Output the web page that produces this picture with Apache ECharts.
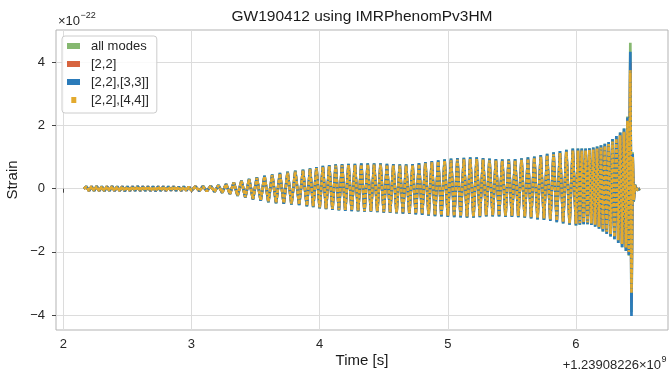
<!DOCTYPE html>
<html>
<head>
<meta charset="utf-8">
<script src="https://cdn.jsdelivr.net/npm/echarts@6/dist/echarts.min.js"></script>
<style>html,body{margin:0;padding:0;background:#fff}#c{width:671px;height:372px}</style>
</head>
<body>
<div id="c"></div>
<script>
// Time in seconds relative to 1.23908226e9 (extrema of the waveform)
const time = [
2.16,2.18,2.20,2.22,2.24,2.26,2.28,2.30,2.32,2.34,
2.36,2.38,2.40,2.42,2.44,2.46,2.48,2.50,2.52,2.54,
2.56,2.58,2.60,2.62,2.64,2.66,2.68,2.70,2.72,2.74,
2.76,2.78,2.80,2.82,2.84,2.86,2.88,2.90,2.92,2.94,
2.96,2.98,
3.00,3.03,3.06,3.09,3.12,3.15,3.18,3.21,3.24,3.27,
3.30,3.33,3.36,3.39,3.42,3.45,3.48,3.51,3.54,3.57,
3.60,3.63,3.66,3.69,3.72,3.75,3.78,3.81,3.84,3.87,
3.90,
3.925,3.95,3.975,4.00,4.025,4.05,4.075,4.10,4.125,4.15,
4.175,4.20,4.225,4.25,4.275,4.30,4.325,4.35,4.375,4.40,
4.425,4.45,4.475,4.50,4.525,4.55,4.575,4.60,4.625,4.65,
4.675,4.70,4.725,4.75,4.775,4.80,4.825,4.85,4.875,4.90,
4.925,4.95,4.975,5.00,
5.025,5.05,5.075,5.10,5.125,5.15,5.175,5.20,5.225,5.25,
5.275,5.30,5.325,5.35,5.375,5.40,5.425,5.45,5.475,5.50,
5.525,5.55,5.575,5.60,5.625,5.65,5.675,5.70,5.725,5.75,
5.775,5.80,5.825,5.85,5.875,5.90,5.925,5.95,5.975,6.00,
6.015,6.03,6.045,6.06,6.075,6.09,6.105,6.12,6.135,6.15,
6.165,6.18,6.195,6.21,6.225,6.24,6.255,6.27,6.285,6.30,
6.315,6.33,6.345,6.36,6.375,6.39,
6.402,6.413,6.424,6.433,6.442,6.45,6.46,6.475,6.50
];

// Strain values (units of 1e-22)
const allModes = [
0,0.07,-0.07,0.07,-0.07,0.08,-0.07,0.07,-0.08,0.07,
-0.07,0.08,-0.07,0.07,-0.07,0.07,-0.08,0.07,-0.07,0.07,
-0.07,0.08,-0.07,0.07,-0.07,0.07,-0.07,0.07,-0.08,0.07,
-0.07,0.07,-0.07,0.07,-0.06,0.07,-0.07,0.06,-0.07,0.07,
-0.06,0.06,
-0.06,0.07,-0.07,0.08,-0.08,0.09,-0.10,0.11,-0.13,0.15,
-0.17,0.20,-0.23,0.26,-0.28,0.31,-0.34,0.36,-0.38,0.41,
-0.43,0.45,-0.46,0.50,-0.48,0.54,-0.50,0.57,-0.52,0.60,
-0.56,
0.64,-0.58,0.68,-0.62,0.72,-0.65,0.75,-0.67,0.77,-0.69,
0.78,-0.70,0.79,-0.71,0.79,-0.72,0.80,-0.73,0.80,-0.73,
0.80,-0.74,0.80,-0.76,0.79,-0.77,0.78,-0.78,0.77,-0.79,
0.77,-0.80,0.78,-0.81,0.81,-0.83,0.84,-0.85,0.87,-0.87,
0.90,-0.88,0.93,-0.89,
0.95,-0.90,0.97,-0.91,0.98,-0.92,0.99,-0.92,0.99,-0.90,
0.97,-0.88,0.95,-0.88,0.94,-0.88,0.93,-0.89,0.93,-0.89,
0.94,-0.90,0.96,-0.92,0.99,-0.94,1.02,-0.97,1.06,-0.99,
1.10,-1.02,1.15,-1.06,1.19,-1.10,1.23,-1.14,1.27,-1.16,
1.27,-1.14,1.27,-1.12,1.27,-1.12,1.28,-1.15,1.30,-1.20,
1.33,-1.27,1.37,-1.35,1.42,-1.43,1.48,-1.51,1.57,-1.60,
1.67,-1.72,1.78,-1.85,1.90,-1.97,
2.28,-2.12,4.62,-3.90,1.15,-0.42,0.13,-0.05,0
];

const mode22 = [
0,0.06,-0.07,0.07,-0.06,0.07,-0.07,0.06,-0.07,0.07,
-0.06,0.07,-0.07,0.06,-0.07,0.07,-0.07,0.06,-0.07,0.07,
-0.06,0.07,-0.07,0.07,-0.06,0.07,-0.07,0.06,-0.07,0.07,
-0.06,0.07,-0.07,0.06,-0.06,0.07,-0.06,0.06,-0.07,0.06,
-0.06,0.06,
-0.06,0.07,-0.07,0.07,-0.08,0.08,-0.09,0.10,-0.12,0.14,
-0.16,0.19,-0.21,0.24,-0.27,0.29,-0.33,0.34,-0.37,0.39,
-0.41,0.43,-0.44,0.47,-0.46,0.51,-0.48,0.54,-0.50,0.57,
-0.54,
0.61,-0.56,0.65,-0.60,0.68,-0.63,0.71,-0.65,0.73,-0.67,
0.74,-0.68,0.75,-0.69,0.75,-0.70,0.76,-0.71,0.76,-0.71,
0.76,-0.72,0.76,-0.74,0.75,-0.75,0.74,-0.76,0.73,-0.77,
0.73,-0.78,0.74,-0.79,0.77,-0.80,0.80,-0.82,0.83,-0.84,
0.86,-0.85,0.88,-0.86,
0.90,-0.87,0.92,-0.88,0.93,-0.89,0.94,-0.89,0.94,-0.87,
0.92,-0.85,0.90,-0.85,0.89,-0.85,0.88,-0.86,0.88,-0.86,
0.89,-0.87,0.91,-0.89,0.94,-0.91,0.97,-0.93,1.01,-0.95,
1.05,-0.98,1.09,-1.02,1.13,-1.06,1.17,-1.10,1.21,-1.12,
1.21,-1.10,1.21,-1.08,1.21,-1.08,1.22,-1.11,1.24,-1.15,
1.27,-1.22,1.30,-1.29,1.35,-1.37,1.41,-1.44,1.49,-1.53,
1.58,-1.64,1.69,-1.76,1.80,-1.88,
2.20,-2.05,4.00,-3.60,1.05,-0.38,0.11,-0.03,0
];

const mode22_33 = [
0,0.07,-0.07,0.07,-0.07,0.08,-0.07,0.07,-0.08,0.07,
-0.07,0.08,-0.07,0.07,-0.07,0.07,-0.08,0.07,-0.07,0.07,
-0.07,0.08,-0.07,0.07,-0.07,0.07,-0.07,0.07,-0.08,0.07,
-0.07,0.07,-0.07,0.07,-0.06,0.07,-0.07,0.06,-0.07,0.07,
-0.06,0.06,
-0.06,0.07,-0.07,0.08,-0.08,0.09,-0.10,0.11,-0.13,0.15,
-0.17,0.20,-0.23,0.26,-0.28,0.31,-0.34,0.36,-0.38,0.41,
-0.43,0.45,-0.46,0.50,-0.48,0.54,-0.50,0.57,-0.52,0.60,
-0.56,
0.64,-0.58,0.68,-0.62,0.72,-0.65,0.75,-0.67,0.77,-0.69,
0.78,-0.70,0.79,-0.71,0.79,-0.72,0.80,-0.73,0.80,-0.73,
0.80,-0.74,0.80,-0.76,0.79,-0.77,0.78,-0.78,0.77,-0.79,
0.77,-0.80,0.78,-0.81,0.81,-0.83,0.84,-0.85,0.87,-0.87,
0.90,-0.88,0.93,-0.89,
0.95,-0.90,0.97,-0.91,0.98,-0.92,0.99,-0.92,0.99,-0.90,
0.97,-0.88,0.95,-0.88,0.94,-0.88,0.93,-0.89,0.93,-0.89,
0.94,-0.90,0.96,-0.92,0.99,-0.94,1.02,-0.97,1.06,-0.99,
1.10,-1.02,1.15,-1.06,1.19,-1.10,1.23,-1.14,1.27,-1.16,
1.27,-1.14,1.27,-1.12,1.27,-1.12,1.28,-1.15,1.30,-1.20,
1.33,-1.27,1.37,-1.35,1.42,-1.43,1.48,-1.51,1.57,-1.60,
1.67,-1.72,1.78,-1.85,1.90,-1.97,
2.25,-2.10,4.33,-4.03,1.10,-0.40,0.12,-0.04,0
];

const mode22_44 = [
0,0.06,-0.07,0.07,-0.06,0.07,-0.07,0.06,-0.07,0.07,
-0.06,0.07,-0.07,0.06,-0.07,0.07,-0.07,0.06,-0.07,0.07,
-0.06,0.07,-0.07,0.07,-0.06,0.07,-0.07,0.06,-0.07,0.07,
-0.06,0.07,-0.07,0.06,-0.06,0.07,-0.06,0.06,-0.07,0.06,
-0.06,0.06,
-0.06,0.07,-0.07,0.07,-0.08,0.08,-0.09,0.10,-0.12,0.14,
-0.16,0.19,-0.21,0.24,-0.26,0.29,-0.32,0.34,-0.36,0.39,
-0.40,0.43,-0.43,0.47,-0.45,0.51,-0.47,0.54,-0.49,0.57,
-0.53,
0.61,-0.55,0.65,-0.59,0.68,-0.62,0.71,-0.64,0.73,-0.66,
0.74,-0.67,0.75,-0.68,0.75,-0.69,0.76,-0.70,0.76,-0.70,
0.76,-0.71,0.76,-0.73,0.75,-0.74,0.74,-0.75,0.73,-0.76,
0.73,-0.77,0.74,-0.78,0.77,-0.79,0.80,-0.81,0.83,-0.83,
0.86,-0.84,0.88,-0.85,
0.90,-0.86,0.92,-0.87,0.93,-0.88,0.94,-0.88,0.94,-0.86,
0.92,-0.84,0.90,-0.84,0.89,-0.84,0.88,-0.85,0.88,-0.85,
0.89,-0.86,0.91,-0.88,0.94,-0.90,0.97,-0.92,1.01,-0.94,
1.05,-0.97,1.09,-1.01,1.13,-1.05,1.17,-1.09,1.21,-1.11,
1.21,-1.09,1.21,-1.07,1.21,-1.07,1.22,-1.10,1.24,-1.14,
1.27,-1.21,1.30,-1.28,1.35,-1.36,1.41,-1.43,1.49,-1.52,
1.58,-1.63,1.69,-1.75,1.80,-1.86,
2.15,-2.00,3.75,-3.30,1.00,-0.36,0.10,-0.03,0
];

const seriesNames = ['all modes', '[2,2]', '[2,2],[3,3]]', '[2,2],[4,4]]'];
const seriesColors = ['#86b870', '#d7643f', '#2b7bba', '#e3aa2e'];
const xTicks = [2, 3, 4, 5, 6];
const yTicks = [-4, -2, 0, 2, 4];

const FONT = '"Liberation Sans", Arial, Helvetica, sans-serif';
const chart = echarts.init(document.getElementById('c'), null, {renderer: 'canvas'});
const allValues = [allModes, mode22, mode22_33, mode22_44];

const series = allValues.map((vals, k) => ({
  name: seriesNames[k],
  type: 'line',
  data: time.map((t, i) => [t, vals[i]]),
  showSymbol: false,
  symbol: 'none',
  silent: true,
  animation: false,
  color: seriesColors[k],
  lineStyle: k === 3
    ? {width: 2.7, color: seriesColors[k], type: [3.6, 1.3], cap: 'butt'}
    : {width: 2.7, color: seriesColors[k]},
  z: 2 + k
}));

const yellowIcon = 'path://M0,0L0.01,0L0,0.01ZM4.3,0L9.3,0L9.3,6L4.3,6ZM13,6L12.99,6L13,5.99Z';

chart.setOption({
  backgroundColor: '#ffffff',
  animation: false,
  textStyle: {fontFamily: FONT},
  grid: {
    left: 56, right: 3, top: 30, bottom: 42,
    show: true, borderColor: '#b3b3b3', borderWidth: 1,
    outerBoundsMode: 'none'
  },
  xAxis: {
    type: 'value', min: 1.943, max: 6.718,
    axisLine: {show: false},
    axisTick: {show: true, length: 4, inside: false, customValues: xTicks, lineStyle: {color: '#444'}},
    axisLabel: {customValues: xTicks, margin: 8, fontSize: 13, color: '#262626', fontFamily: FONT},
    splitLine: {show: true, lineStyle: {color: '#dcdcdc', width: 1}}
  },
  yAxis: {
    type: 'value', min: -4.47, max: 5.02,
    axisLine: {show: false},
    axisTick: {show: true, length: 4, inside: false, customValues: yTicks, lineStyle: {color: '#444'}},
    axisLabel: {customValues: yTicks, margin: 11, fontSize: 13, color: '#262626', fontFamily: FONT,
      formatter: v => (v < 0 ? '\u2212' + Math.abs(v) : String(v))},
    splitLine: {show: true, lineStyle: {color: '#dcdcdc', width: 1}}
  },
  legend: {
    orient: 'vertical', left: 62, top: 36,
    padding: [3, 8, 6, 5],
    itemWidth: 13, itemHeight: 6, itemGap: 4,
    backgroundColor: 'rgba(255,255,255,0.85)',
    borderColor: '#cccccc', borderWidth: 1, borderRadius: 3,
    textStyle: {fontSize: 13, color: '#262626', fontFamily: FONT, lineHeight: 14, padding: [0, 0, 0, 6]},
    itemStyle: {borderWidth: 0},
    data: [
      {name: seriesNames[0], icon: 'rect'},
      {name: seriesNames[1], icon: 'rect'},
      {name: seriesNames[2], icon: 'rect'},
      {name: seriesNames[3], icon: yellowIcon}
    ],
    selectedMode: false
  },
  graphic: [
    {type: 'text', x: 362, y: 17, silent: true,
      style: {text: 'GW190412 using IMRPhenomPv3HM', font: '15.5px ' + FONT, fill: '#1a1a1a', align: 'center', verticalAlign: 'middle'}},
    {type: 'text', x: 58, y: 21, silent: true,
      style: {text: '\u00d710', font: '13px ' + FONT, fill: '#262626', align: 'left', verticalAlign: 'middle'}},
    {type: 'text', x: 80.5, y: 15.5, silent: true,
      style: {text: '\u221222', font: '9px ' + FONT, fill: '#262626', align: 'left', verticalAlign: 'middle'}},
    {type: 'text', x: 362, y: 361, silent: true,
      style: {text: 'Time [s]', font: '15px ' + FONT, fill: '#1a1a1a', align: 'center', verticalAlign: 'middle'}},
    {type: 'text', x: 12.5, y: 180, rotation: Math.PI / 2, silent: true,
      style: {text: 'Strain', font: '15px ' + FONT, fill: '#1a1a1a', align: 'center', verticalAlign: 'middle'}},
    {type: 'text', x: 661, y: 365, silent: true,
      style: {text: '+1.23908226\u00d710', font: '13px ' + FONT, fill: '#262626', align: 'right', verticalAlign: 'middle'}},
    {type: 'text', x: 661.5, y: 359.5, silent: true,
      style: {text: '9', font: '9px ' + FONT, fill: '#262626', align: 'left', verticalAlign: 'middle'}}
  ],
  series: series
});
</script>
</body>
</html>
